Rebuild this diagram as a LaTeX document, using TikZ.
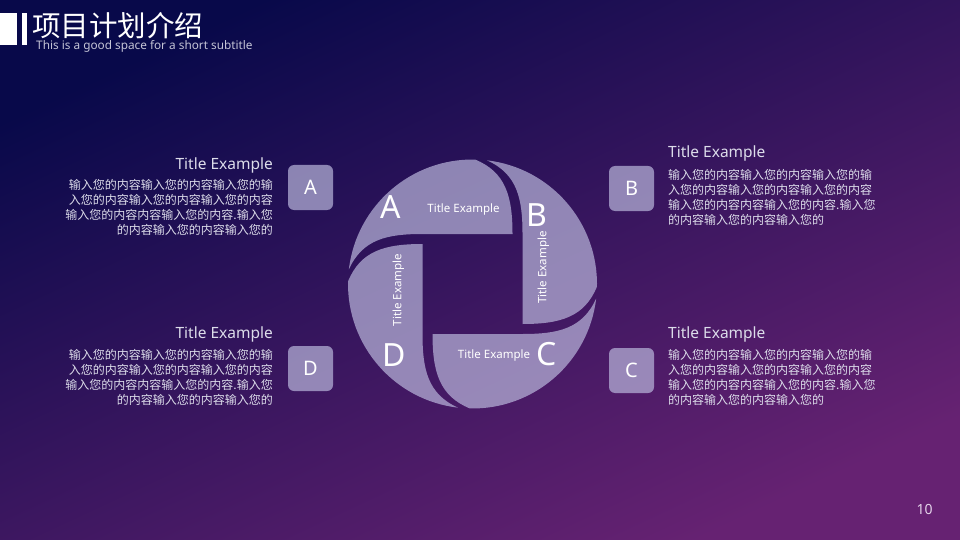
\documentclass[tikz,border=0pt]{standalone}
\usepackage{fontspec}
\setmainfont{Noto Sans}
\newfontfamily\cjk{Noto Sans CJK SC}
\usepackage{tikz}
\usetikzlibrary{positioning}

\definecolor{bgtop}{HTML}{08094A}
\definecolor{bgmid}{HTML}{140A54}
\definecolor{bgbot}{HTML}{662272}
\definecolor{bladecol}{HTML}{BAB7DC}
\definecolor{subgray}{HTML}{C4C4D6}
\definecolor{softtext}{HTML}{DCDCEA}
\definecolor{pagenum}{HTML}{E4D4EA}

\begin{document}
\begin{tikzpicture}[x=1pt,y=1pt,inner sep=0pt]
  \tikzstyle{blade}=[fill=bladecol,fill opacity=0.7]
  \tikzstyle{letterbox}=[fill=bladecol,fill opacity=0.7,text opacity=1,rounded corners=6pt,minimum size=45pt,text=white,font=\fontsize{20}{20}\selectfont]
  \tikzstyle{bladeletter}=[text=white,font=\fontsize{32}{32}\selectfont]
  \tikzstyle{bladetitle}=[text=white,font=\fontsize{11.5}{11.5}\selectfont]
  \tikzstyle{headline}=[text=softtext,font=\fontsize{15.5}{15.5}\selectfont]
  \tikzstyle{bodytext}=[text=softtext,font=\cjk\fontsize{12}{14.8}\selectfont]

  \useasboundingbox (0,0) rectangle (960,-540);
  \shade[top color=bgtop,middle color=bgmid,bottom color=bgbot,shading angle=25] (0,0) rectangle (960,-540);

  % header
  \fill[white] (0,-13) rectangle (17,-45);
  \fill[white] (21.5,-13) rectangle (26.5,-45);
  \node[anchor=base west,text=white,font=\cjk\fontsize{28.5}{28.5}\selectfont] (title) at (32,-37) {项目计划介绍};
  \node[anchor=base west,text=subgray,font=\fontsize{11.8}{11.8}\selectfont] (subtitle) at (36,-49.5) {This is a good space for a short subtitle};

  % pinwheel
  \begin{scope}[shift={(472.5,-284)}]
    \foreach \a in {0,90,180,270}
      \fill[blade,rotate=\a] (50,-40) -- (50,50) .. controls (50,85) and (45,110) .. (83.3:124.5)
        arc[start angle=83.3,end angle=-1.2,radius=124.5]
        .. controls (112,-33) and (88,-40) .. (50,-40) -- cycle;
  \end{scope}

  \node[bladeletter] (la) at (391,-207) {A};
  \node[bladeletter] (lb) at (537,-215) {B};
  \node[bladeletter] (lc) at (547,-354) {C};
  \node[bladeletter] (ld) at (394,-355) {D};
  \node[bladetitle] (ta) at (463.5,-210) {Title Example};
  \node[bladetitle,rotate=90] (tb) at (543.5,-267.5) {Title Example};
  \node[bladetitle] (tc) at (494,-355.5) {Title Example};
  \node[bladetitle,rotate=90] (td) at (398.5,-290) {Title Example};

  % side boxes
  \node[letterbox] (boxa) at (310.5,-187.5) {A};
  \node[letterbox] (boxb) at (631.5,-188.5) {B};
  \node[letterbox] (boxc) at (631.5,-370.5) {C};
  \node[letterbox] (boxd) at (310.5,-368.5) {D};

  % text blocks
  \node[headline,anchor=base east] (heada) at (273,-170) {Title Example};
  \node[bodytext,anchor=north east,align=right] (texta) at (273,-179.5) {输入您的内容输入您的内容输入您的输\\入您的内容输入您的内容输入您的内容\\输入您的内容内容输入您的内容.输入您\\的内容输入您的内容输入您的};
  \node[headline,anchor=base east] (headd) at (273,-338) {Title Example};
  \node[bodytext,anchor=north east,align=right] (textd) at (273,-349.5) {输入您的内容输入您的内容输入您的输\\入您的内容输入您的内容输入您的内容\\输入您的内容内容输入您的内容.输入您\\的内容输入您的内容输入您的};
  \node[headline,anchor=base west] (headb) at (668,-158) {Title Example};
  \node[bodytext,anchor=north west,align=left] (textb) at (668,-169.5) {输入您的内容输入您的内容输入您的输\\入您的内容输入您的内容输入您的内容\\输入您的内容内容输入您的内容.输入您\\的内容输入您的内容输入您的};
  \node[headline,anchor=base west] (headc) at (668,-338) {Title Example};
  \node[bodytext,anchor=north west,align=left] (textc) at (668,-349.5) {输入您的内容输入您的内容输入您的输\\入您的内容输入您的内容输入您的内容\\输入您的内容内容输入您的内容.输入您\\的内容输入您的内容输入您的};

  \node[text=pagenum,font=\fontsize{14}{14}\selectfont] (page) at (924.5,-509) {10};
\end{tikzpicture}
\end{document}
